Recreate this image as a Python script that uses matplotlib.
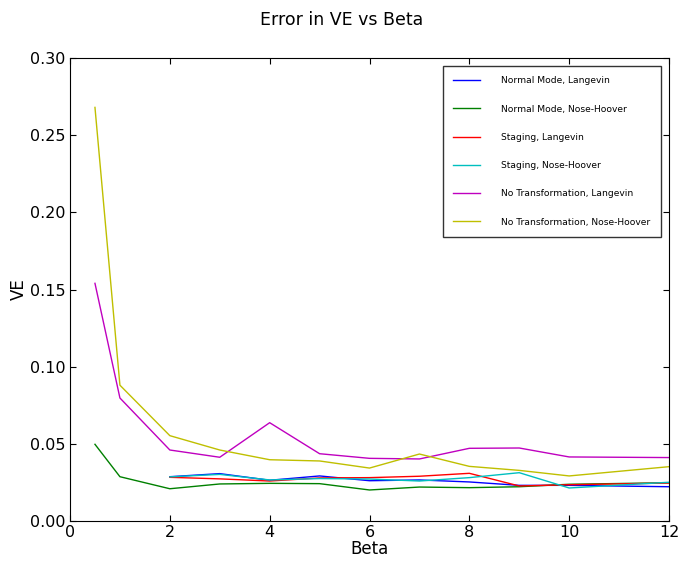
import matplotlib
matplotlib.use("Agg")
from matplotlib import pyplot as plt

beta_full = [0.5, 1, 2, 3, 4, 5, 6, 7, 8, 9, 10, 12]
beta_part = [2, 3, 4, 5, 6, 7, 8, 9, 10, 12]

nm_langevin = [0.0287, 0.0307, 0.0264, 0.0292, 0.0261, 0.0266, 0.0253, 0.0231, 0.0231, 0.0222]
nm_nose = [0.0497, 0.0287, 0.0209, 0.0240, 0.0244, 0.0242, 0.0201, 0.0220, 0.0216, 0.0222, 0.0238, 0.0248]
st_langevin = [0.0283, 0.0273, 0.0259, 0.0279, 0.0281, 0.0290, 0.0309, 0.0227, 0.0235, 0.0246]
st_nose = [0.0286, 0.0302, 0.0266, 0.0275, 0.0272, 0.0259, 0.0281, 0.0313, 0.0214, 0.0251]
nt_langevin = [0.154, 0.0797, 0.0460, 0.0413, 0.0637, 0.0436, 0.0406, 0.0402, 0.0471, 0.0473, 0.0415, 0.0411]
nt_nose = [0.268, 0.088, 0.0553, 0.0460, 0.0397, 0.0389, 0.0343, 0.0434, 0.0354, 0.0328, 0.0292, 0.0352]

labels = [
    "Normal Mode, Langevin",
    "Normal Mode, Nose-Hoover",
    "Staging, Langevin",
    "Staging, Nose-Hoover",
    "No Transformation, Langevin",
    "No Transformation, Nose-Hoover",
]

fig = plt.figure(figsize=(6.83, 5.61), dpi=100)
ax = fig.add_axes([0.1025, 0.0713, 0.877, 0.8253])

ax.plot(beta_part, nm_langevin, color=(0, 0, 1), lw=1, label=labels[0])
ax.plot(beta_full, nm_nose, color=(0, 0.5, 0), lw=1, label=labels[1])
ax.plot(beta_part, st_langevin, color=(1, 0, 0), lw=1, label=labels[2])
ax.plot(beta_part, st_nose, color=(0, 0.75, 0.75), lw=1, label=labels[3])
ax.plot(beta_full, nt_langevin, color=(0.75, 0, 0.75), lw=1, label=labels[4])
ax.plot(beta_full, nt_nose, color=(0.75, 0.75, 0), lw=1, label=labels[5])

ax.set_xlim(0, 12)
ax.set_ylim(0, 0.30)
ax.set_xticks([0, 2, 4, 6, 8, 10, 12])
ax.set_yticks([0, 0.05, 0.10, 0.15, 0.20, 0.25, 0.30])
ax.set_yticklabels(["0.00", "0.05", "0.10", "0.15", "0.20", "0.25", "0.30"])
ax.tick_params(direction="in", top=True, right=True, labelsize=11.5, length=4, pad=3)
ax.set_xlabel("Beta", fontsize=12, labelpad=0)
ax.set_ylabel("VE", fontsize=12, labelpad=2)
fig.suptitle("Error in VE vs Beta", fontsize=12.5, y=0.98)

ax.legend(loc="upper right", fontsize=6.6, labelspacing=2.1, handlelength=3.0,
          handletextpad=2.3, borderpad=1.1, borderaxespad=0.9,
          fancybox=False, frameon=True, edgecolor="black")
leg = ax.get_legend()
leg.get_frame().set_linewidth(1)

fig.savefig("out.png", dpi=100, facecolor="white")
